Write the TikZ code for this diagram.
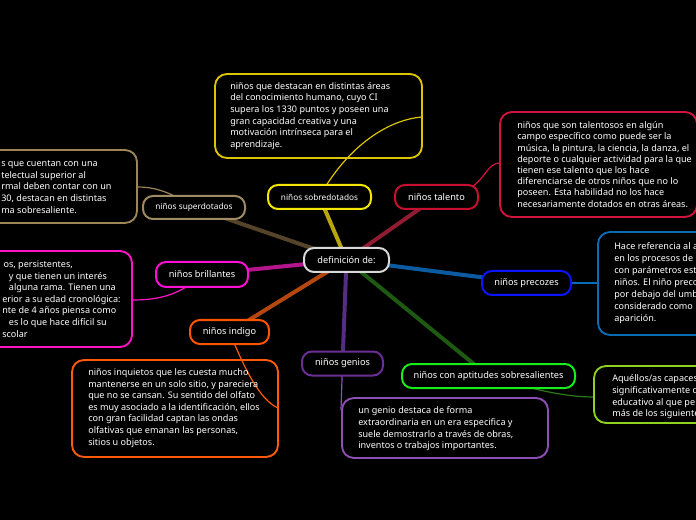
\documentclass[tikz,border=0pt]{standalone}
\usepackage{fontspec}
\setmainfont{Noto Sans}
\usetikzlibrary{backgrounds}
\definecolor{cCen}{HTML}{D8D8D8}
\definecolor{cSobN}{HTML}{F5E800}
\definecolor{cTalN}{HTML}{C8102E}
\definecolor{cSupN}{HTML}{A08C64}
\definecolor{cBriN}{HTML}{FF10D4}
\definecolor{cPreN}{HTML}{0A14FF}
\definecolor{cIndN}{HTML}{FF5500}
\definecolor{cGenN}{HTML}{6B2D96}
\definecolor{cAptN}{HTML}{1AEE1A}
\definecolor{cSobT}{HTML}{DCC400}
\definecolor{cTalT}{HTML}{D2143C}
\definecolor{cSupT}{HTML}{9C8556}
\definecolor{cBriT}{HTML}{FF14C8}
\definecolor{cPreT}{HTML}{0A6CB4}
\definecolor{cAptT}{HTML}{8CD21E}
\definecolor{cGenT}{HTML}{8C50B4}
\definecolor{cIndT}{HTML}{FF5A0A}
\definecolor{kSob}{HTML}{B9A50C}
\definecolor{kTal}{HTML}{901C32}
\definecolor{kSup}{HTML}{55442A}
\definecolor{kBri}{HTML}{B4148C}
\definecolor{kPre}{HTML}{0C5AA0}
\definecolor{kInd}{HTML}{B4460F}
\definecolor{kGen}{HTML}{552D82}
\definecolor{kApt}{HTML}{1E5A12}
\definecolor{wApt}{HTML}{2A7818}
\begin{document}
\begin{tikzpicture}[x=0.75pt,y=-0.75pt,
  lbl/.style={draw, line width=1.5pt, rounded corners=7.5pt, fill=black, text=white,
    font=\fontsize{6.9}{8}\selectfont, inner sep=0pt, minimum height=18pt},
  lblsmall/.style={lbl, font=\fontsize{6.2}{7.5}\selectfont},
  tbox/.style={draw, line width=1.4pt, rounded corners=9pt, inner sep=0pt},
  txt/.style={text=white, align=left, inner sep=0pt, font=\fontsize{6.8}{8.7}\selectfont},
  txtb/.style={txt, font=\fontsize{6.8}{8.4}\selectfont},
  txtc/.style={txt, font=\fontsize{6.8}{9}\selectfont},
  trunk/.style={line width=3pt},
  twig/.style={line width=0.9pt}]
\useasboundingbox (0,0) rectangle (696,520);
\begin{pgfonlayer}{background}
\fill[black] (0,0) rectangle (696,520);
\end{pgfonlayer}
\clip (0,0) rectangle (696,520);

% text boxes
\node[tbox, draw=cSobT, minimum width=155.25pt, minimum height=63pt] (sobT) at (318.5,116) {};
\node[tbox, draw=cTalT, minimum width=147.75pt, minimum height=78.75pt] (talT) at (598.5,164.5) {};
\node[tbox, draw=cSupT, minimum width=177.75pt, minimum height=54.75pt] (supT) at (18.5,186.5) {};
\node[tbox, draw=cBriT, minimum width=174pt, minimum height=72pt] (briT) at (16,299) {};
\node[tbox, draw=cPreT, minimum width=151.5pt, minimum height=77.25pt] (preT) at (699,283.5) {};
\node[tbox, draw=cAptT, minimum width=154.5pt, minimum height=42.75pt] (aptT) at (697,394.5) {};
\node[tbox, draw=cGenT, minimum width=154.5pt, minimum height=45pt] (genT) at (445,428) {};
\node[tbox, draw=cIndT, minimum width=154.5pt, minimum height=72.75pt] (indT) at (175,408.5) {};

% texts
\node[txt, anchor=west] (sobX) at (230,116) {niños que destacan en distintas áreas\\del conocimiento humano, cuyo CI\\supera los 1330 puntos y poseen una\\gran capacidad creativa y una\\motivación intrínseca para el\\aprendizaje.};
\node[txtb, anchor=west] (talX) at (517,164.5) {niños que son talentosos en algún\\campo específico como puede ser la\\música, la pintura, la ciencia, la danza, el\\deporte o cualquier actividad para la que\\tienen ese talento que los hace\\diferenciarse de otros niños que no lo\\poseen. Esta habilidad no los hace\\necesariamente dotados en otras áreas.};
\node[txt, anchor=west] (supX) at (1,187) {s que cuentan con una\\telectual superior al\\rmal deben contar con un\\30, destacan en distintas\\ma sobresaliente.};
\node[txt, anchor=west] (briX) at (2,299) {\hspace*{1pt}os, persistentes,\\\hspace*{5pt}y que tienen un interés\\\hspace*{5pt}alguna rama. Tienen una\\erior a su edad cronológica:\\nte de 4 años piensa como\\\hspace*{5pt}es lo que hace difícil su\\scolar};
\node[txtc, anchor=west] (preX) at (614,283) {Hace referencia al a\\en los procesos de\\con parámetros est\\niños. El niño preco\\por debajo del umb\\considerado como\\aparición.};
\node[txt, anchor=west] (aptX) at (612,397) {Aquéllos/as capaces\\significativamente d\\educativo al que pe\\más de los siguiente};
\node[txt, anchor=west] (genX) at (358,429) {un genio destaca de forma\\extraordinaria en un era especifica y\\suele demostrarlo a través de obras,\\inventos o trabajos importantes.};
\node[txt, anchor=west] (indX) at (88,408) {niños inquietos que les cuesta mucho\\mantenerse en un solo sitio, y pareciera\\que no se cansan. Su sentido del olfato\\es muy asociado a la identificación, ellos\\con gran facilidad captan las ondas\\olfativas que emanan las personas,\\sitios u objetos.};

% label nodes
\node[lbl, draw=cCen, minimum width=63.75pt] (cen) at (346.5,260) {definición de:};
\node[lblsmall, draw=cSobN, minimum width=77.25pt] (sobN) at (319.5,197) {niños sobredotados};
\node[lbl, draw=cTalN, minimum width=62.25pt] (talN) at (436.5,197) {niños talento};
\node[lblsmall, draw=cSupN, minimum width=76.5pt, minimum height=17.25pt] (supN) at (194,207.5) {niños superdotados};
\node[lbl, draw=cBriN, minimum width=69pt, minimum height=18.75pt] (briN) at (202,274.5) {niños brillantes};
\node[lbl, draw=cPreN, minimum width=66.75pt] (preN) at (526.5,283) {niños precozes};
\node[lbl, draw=cIndN, minimum width=59.25pt] (indN) at (229.5,332) {niños indigo};
\node[lbl, draw=cGenN, minimum width=60.75pt] (genN) at (342.5,363.5) {niños genios};
\node[lbl, draw=cAptN, minimum width=129.75pt] (aptN) at (488.5,376) {niños con aptitudes sobresalientes};

% helper coordinates on boxes
\coordinate (sobTe) at (422,117);
\coordinate (talTe) at (500,163);
\coordinate (supTe) at (137,187);
\coordinate (briTe) at (132,300);
\coordinate (indTe) at (278,408);
\coordinate (genTe) at (341,410);
\coordinate (preTe) at (598,283);
\coordinate (aptTe) at (594,397);

\begin{pgfonlayer}{background}
\draw[trunk, kSob] (cen.center) -- (sobN.center);
\draw[trunk, kTal] (cen.center) -- (talN.center);
\draw[trunk, kSup] (cen.center) -- (supN.center);
\draw[trunk, kBri] (cen.center) -- (briN.center);
\draw[trunk, kPre] (cen.center) -- (preN.center);
\draw[trunk, kInd] (cen.center) -- (indN.center);
\draw[trunk, kGen] (cen.center) -- (genN.center);
\draw[trunk, kApt] (cen.center) -- (aptN.center);
\draw[twig, cSobT] (sobN.center) .. controls (345,150) and (385,120) .. (sobTe);
\draw[twig, cTalT] (talN.center) .. controls (485,197) and (482,163) .. (talTe);
\draw[twig, cSupT] (supN.center) .. controls (168,190) and (152,187) .. (supTe);
\draw[twig, cBriT] (briN.center) .. controls (178,298) and (152,300) .. (briTe);
\draw[twig, cIndT] (indN.center) .. controls (245,370) and (260,400) .. (indTe);
\draw[twig, cGenT] (genN.center) -- (genTe);
\draw[twig, cPreT] (preN.center) -- (preTe);
\draw[twig, wApt] (aptN.center) .. controls (540,392) and (570,397) .. (aptTe);
\end{pgfonlayer}
\end{tikzpicture}
\end{document}
